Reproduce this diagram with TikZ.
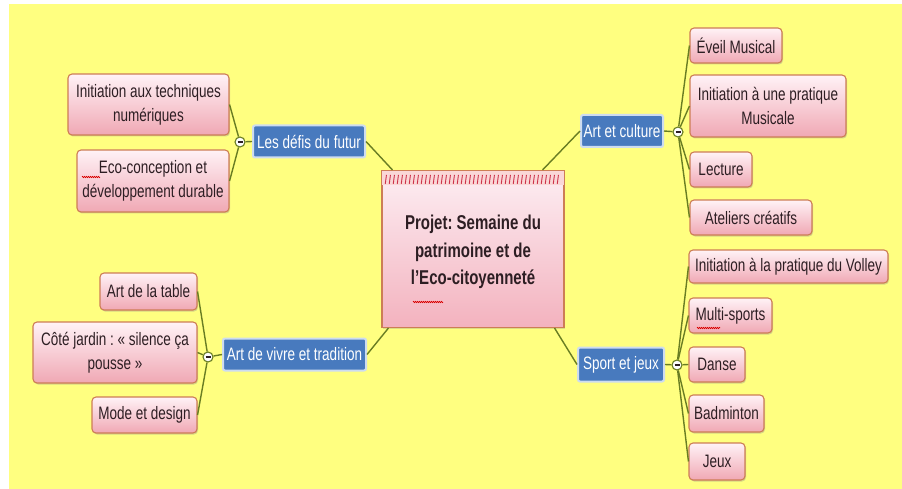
\documentclass[tikz,border=0pt]{standalone}
\usepackage{fontspec}
\setmainfont{Liberation Sans}[FakeStretch=0.75]
\usetikzlibrary{shadows,calc,decorations.pathmorphing}
\definecolor{bgyellow}{RGB}{255,255,128}
\definecolor{boxborder}{RGB}{205,125,85}
\definecolor{pinktop}{RGB}{255,242,246}
\definecolor{pinkbot}{RGB}{240,168,180}
\definecolor{ctrtop}{RGB}{253,238,243}
\definecolor{ctrbot}{RGB}{243,178,190}
\definecolor{bluefill}{RGB}{72,122,190}
\definecolor{blueedge}{RGB}{205,220,240}
\definecolor{olive}{RGB}{105,125,35}
\definecolor{textdark}{RGB}{45,30,35}
\definecolor{tickred}{RGB}{205,50,75}
\definecolor{bandpink}{RGB}{250,215,215}
\frenchspacing
\begin{document}
\begin{tikzpicture}[x=1pt,y=-1pt,
  kid/.style={draw=boxborder, line width=1.1pt, rounded corners=4pt,
    top color=pinktop, bottom color=pinkbot, align=center, inner sep=0pt,
    font=\fontsize{18}{24}\selectfont, text=textdark,
    drop shadow={shadow xshift=1pt, shadow yshift=-1.5pt, fill=black!45, opacity=0.35}},
  topic/.style={draw=blueedge, line width=2pt, rounded corners=2pt, fill=bluefill,
    text=white, inner sep=0pt, font=\fontsize{18}{22}\selectfont, minimum height=32pt},
  hub/.style={circle, draw=olive, line width=1.1pt, fill=white, minimum size=10pt, inner sep=0pt,
    path picture={\draw[line width=1.2pt, textdark] ([xshift=-2.5pt]path picture bounding box.center) -- ([xshift=2.5pt]path picture bounding box.center);}},
  link/.style={draw=olive, line width=1.4pt},
  spell/.style={draw=red!85!black, line width=0.6pt, decorate, decoration={zigzag, amplitude=0.7pt, segment length=2pt}}
]
\useasboundingbox (0,0) rectangle (902,489);
\fill[white] (0,0) rectangle (902,489);
\fill[bgyellow] (9,4) rectangle (902,489);

% central node
\node[draw=boxborder, line width=1.1pt, top color=ctrtop, bottom color=ctrbot,
  minimum width=182pt, minimum height=157pt, inner sep=0pt,
  drop shadow={shadow xshift=1pt, shadow yshift=-1.5pt, fill=black!45, opacity=0.3}]
  (center) at (473,249) {};
\fill[bandpink] ($(center.north west)+(1,1)$) rectangle ($(center.north east)+(-1,15)$);
\foreach \i in {0,...,43}
  \draw[tickred, line width=0.9pt] ($(center.north west)+(5+4*\i,5)$) -- ++(-1.2,9);
\node[align=center, inner sep=0pt, font=\bfseries\fontsize{20}{27.5}\selectfont, text=textdark]
  (ctext) at ([yshift=-3pt]center.center) {Projet: Semaine du\\patrimoine et de\\l'Eco-citoyenneté};

% main topics
\node[topic, minimum width=112pt] (defis) at (309,141.5) {Les défis du futur};
\node[topic, minimum width=143pt] (vivre) at (294.5,354.5) {Art de vivre et tradition};
\node[topic, minimum width=82pt] (culture) at (622,131) {Art et culture};
\node[topic, minimum width=86pt, minimum height=34pt] (sport) at (621,364.5) {Sport et jeux};

% hubs
\node[hub] (h1) at (240,142) {};
\node[hub] (h2) at (208,357) {};
\node[hub] (h3) at (678,132) {};
\node[hub] (h4) at (677,365) {};

% children left upper
\node[kid, minimum width=161pt, minimum height=61pt] (num) at (148.5,104.5) {Initiation aux techniques\\numériques};
\node[kid, minimum width=152pt, minimum height=62pt] (eco) at (153,181) {Eco-conception et\\développement durable};
% children left lower
\node[kid, minimum width=97pt, minimum height=37pt] (table) at (148.5,291.5) {Art de la table};
\node[kid, minimum width=164pt, minimum height=61pt] (jardin) at (115,352.5) {Côté jardin : « silence ça\\pousse »};
\node[kid, minimum width=105pt, minimum height=36pt] (mode) at (144.5,415) {Mode et design};
% children right upper
\node[kid, minimum width=92pt, minimum height=35pt] (eveil) at (736,45.5) {Éveil Musical};
\node[kid, minimum width=156pt, minimum height=62pt] (pratique) at (768,106) {Initiation à une pratique\\Musicale};
\node[kid, minimum width=62pt, minimum height=35pt] (lecture) at (721,169.5) {Lecture};
\node[kid, minimum width=122pt, minimum height=35pt] (ateliers) at (751,217.5) {Ateliers créatifs};
% children right lower
\node[kid, minimum width=199pt, minimum height=33pt] (volley) at (788.5,266.5) {Initiation à la pratique du Volley};
\node[kid, minimum width=83pt, minimum height=35pt] (multi) at (730.5,315.5) {Multi-sports};
\node[kid, minimum width=56pt, minimum height=35pt] (danse) at (717,364.5) {Danse};
\node[kid, minimum width=75pt, minimum height=37pt] (badminton) at (726.5,413.5) {Badminton};
\node[kid, minimum width=56pt, minimum height=37pt] (jeux) at (717,461.5) {Jeux};

% connectors center - topics
\draw[link] (defis.east) -- ([xshift=11pt]center.north west);
\draw[link] (culture.west) -- ([xshift=-22pt]center.north east);
\draw[link] (vivre.east) -- ([xshift=7pt]center.south west);
\draw[link] (sport.west) -- ([xshift=-10pt]center.south east);

% topics - hubs
\draw[link] (defis.west) -- (h1);
\draw[link] (vivre.west) -- (h2);
\draw[link] (culture.east) -- (h3);
\draw[link] (sport.east) -- (h4);

% hubs - children
\draw[link] (h1) -- (num.east);
\draw[link] (h1) -- (eco.east);
\draw[link] (h2) -- (table.east);
\draw[link] (h2) -- (jardin.east);
\draw[link] (h2) -- (mode.east);
\draw[link] (h3) -- (eveil.west);
\draw[link] (h3) -- (pratique.west);
\draw[link] (h3) -- (lecture.west);
\draw[link] (h3) -- (ateliers.west);
\draw[link] (h4) -- (volley.west);
\draw[link] (h4) -- (multi.west);
\draw[link] (h4) -- (danse.west);
\draw[link] (h4) -- (badminton.west);
\draw[link] (h4) -- (jeux.west);

% spell-check underlines
\draw[spell] (82,177) -- (100,177);
\draw[spell] (413,302) -- (443,302);
\draw[spell] (697,328) -- (720,328);
\end{tikzpicture}
\end{document}
